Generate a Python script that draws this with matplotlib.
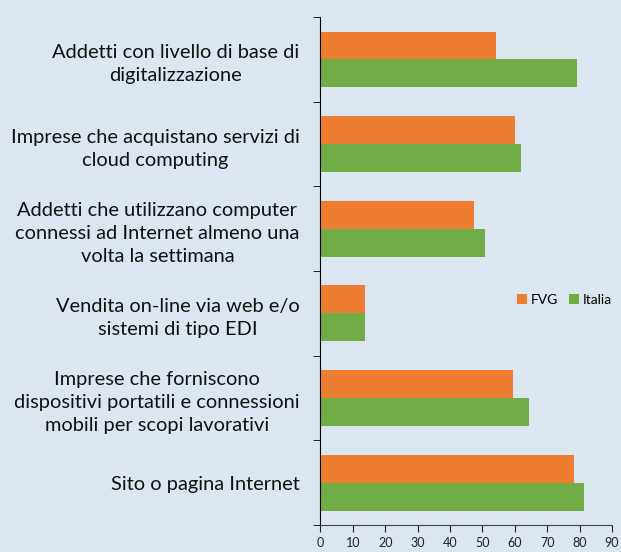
import matplotlib.pyplot as plt
import numpy as np

categorie = [
    "Addetti con livello di base di\ndigitalizzazione",
    "Imprese che acquistano servizi di\ncloud computing",
    "Addetti che utilizzano computer\nconnessi ad Internet almeno una\nvolta la settimana",
    "Vendita on-line via web e/o\nsistemi di tipo EDI",
    "Imprese che forniscono\ndispositivi portatili e connessioni\nmobili per scopi lavorativi",
    "Sito o pagina Internet",
]
fvg = [54.2, 60.0, 47.4, 13.7, 59.4, 78.2]
italia = [79.2, 61.9, 50.8, 13.7, 64.4, 81.3]

sfondo = "#dce6f1"
plt.rcParams['font.family'] = ['Lato', 'DejaVu Sans']

fig = plt.figure(figsize=(6.21, 5.52), dpi=100, facecolor=sfondo)
ax = fig.add_axes([0.516, 0.049, 0.4695, 0.92])
ax.set_facecolor(sfondo)

y = np.arange(len(categorie))
h = 0.33
ax.barh(y - h / 2, fvg, height=h, color="#ed7d31", label="FVG")
ax.barh(y + h / 2, italia, height=h, color="#70ad47", label="Italia")

ax.set_ylim(len(categorie) - 0.5, -0.5)
ax.set_xlim(0, 90)
ax.set_xticks(range(0, 91, 10))
ax.tick_params(axis="x", labelsize=9, length=5, colors="#222222", pad=4)

ax.set_yticks(y)
ax.set_yticklabels(categorie, fontsize=14.4, ha="right", multialignment="center",
                   linespacing=1.45, color="#111111")
ax.tick_params(axis="y", which="major", length=0, pad=15)
ax.set_yticks(np.arange(-0.5, len(categorie)), minor=True)
ax.tick_params(axis="y", which="minor", length=5)

for s in ["top", "right"]:
    ax.spines[s].set_visible(False)
ax.spines["bottom"].set_color("#444444")

ax.legend(loc="center left", bbox_to_anchor=(0.674, 0.443), ncol=2, frameon=False,
          fontsize=10, handlelength=0.7, handleheight=0.7, handletextpad=0.3,
          columnspacing=0.8, borderaxespad=0, borderpad=0)

fig.savefig("out.png", dpi=100, facecolor=sfondo)
